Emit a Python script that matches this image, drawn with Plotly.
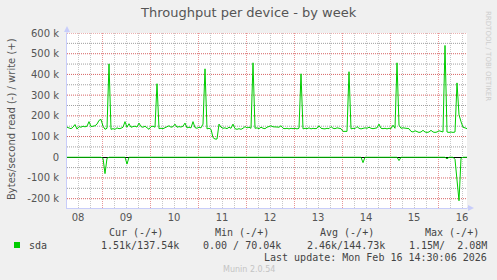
import plotly.graph_objects as go
import pandas as pd

# ---- data (hourly samples, values in kB/s) ----
start_time = "2026-02-08 06:30"
n_points = 201
write_k = [
    145, 140, 138, 145, 158, 136, 148, 145, 150, 147,
    150, 172, 148, 150, 152, 160, 178, 183, 150, 135,
    140, 451, 135, 138, 135, 142, 138, 140, 145, 172,
    145, 162, 145, 148, 150, 146, 165, 148, 145, 150,
    140, 135, 148, 150, 145, 355, 138, 140, 138, 142,
    145, 152, 145, 148, 160, 145, 148, 146, 150, 165,
    142, 145, 142, 172, 143, 140, 145, 142, 160, 427,
    137, 140, 135, 95, 88, 88, 160, 145, 140, 142,
    138, 145, 140, 160, 138, 135, 138, 135, 140, 148,
    142, 145, 140, 456, 140, 142, 138, 145, 140, 138,
    145, 148, 152, 147, 148, 146, 145, 152, 140, 138,
    140, 137, 140, 138, 140, 137, 140, 403, 137, 140,
    138, 142, 137, 140, 138, 140, 152, 140, 138, 137,
    140, 138, 148, 140, 138, 142, 140, 138, 125, 124,
    125, 413, 137, 140, 138, 148, 140, 137, 140, 142,
    140, 145, 140, 138, 140, 142, 160, 140, 138, 140,
    137, 140, 138, 155, 140, 456, 155, 140, 142, 140,
    140, 138, 125, 122, 128, 122, 120, 122, 130, 122,
    120, 122, 130, 122, 120, 122, 128, 125, 122, 540,
    122, 120, 122, 120, 122, 359, 205, 172, 145, 142,
    138,
]
read_k = [0] * 201
read_dips = {18: 5, 19: 79, 20: 5, 30: 33, 62: 3, 72: 2, 82: 2, 100: 2,
             135: 3, 144: 2, 148: 26, 166: 16, 182: 2, 190: 8, 194: 10,
             195: 131, 196: 210, 197: 5}
for k, v in read_dips.items():
    read_k[k] = v

y_tick_vals = [-200, -100, 0, 100, 200, 300, 400, 500, 600]
y_tick_text = ["-200 k", "-100 k", "0", "100 k", "200 k", "300 k", "400 k", "500 k", "600 k"]
y_minor_vals = [-150, -50, 50, 150, 250, 350, 450, 550]

legend_name = "sda"
col_headers = ["Cur (-/+)", "Min (-/+)", "Avg (-/+)", "Max (-/+)"]
col_values = ["1.51k/137.54k", "0.00 / 70.04k", "2.46k/144.73k", "1.15M/\u00a0\u00a02.08M"]
last_update = "Last update: Mon Feb 16 14:30:06 2026"

times = pd.date_range(start_time, periods=n_points, freq="h")

# ---- layout geometry (pixels) ----
W, H = 497, 280
L, R, T, B = 67, 467, 33, 208
pw, ph = R - L, B - T


def px(x):
    return (x - L) / pw


def py(y):
    return (B - y) / ph


GREEN = "#00CC00"
AXIS = "rgb(200,205,250)"
TXT = "#555555"
MAJ_V = "rgb(232,150,150)"
MIN_V = "rgb(200,200,200)"
MAJ_H = "rgb(215,100,100)"
MIN_H = "rgb(160,160,160)"

fig = go.Figure()
fig.add_trace(go.Scatter(x=times, y=write_k, mode="lines",
                         line=dict(color=GREEN, width=1), hoverinfo="skip"))
fig.add_trace(go.Scatter(x=times, y=[-v for v in read_k], mode="lines",
                         line=dict(color=GREEN, width=1), hoverinfo="skip"))

fig.update_layout(
    width=W, height=H,
    margin=dict(l=L, r=W - R, t=T, b=H - B, pad=0),
    paper_bgcolor="#F0F0F0", plot_bgcolor="#FFFFFF",
    showlegend=False,
    font=dict(family="DejaVu Sans", size=10, color=TXT),
)

fig.update_xaxes(
    type="date",
    range=[times[0], times[-1]],
    tick0="2026-02-08", dtick=86400000,
    tickformat="%d", ticklabelmode="period",
    ticks="", showgrid=True, gridcolor=MAJ_V, griddash="1px,1px", gridwidth=1,
    minor=dict(dtick=6 * 3600000, tick0="2026-02-08", showgrid=True,
               gridcolor=MIN_V, griddash="1px,1px", gridwidth=1),
    showline=True, linecolor=AXIS, linewidth=1,
    tickfont=dict(size=10, color=TXT),
    zeroline=False, fixedrange=True,
)
fig.update_yaxes(
    range=[-245, 600],
    tickvals=y_tick_vals, ticktext=y_tick_text,
    ticks="", ticklabelstandoff=5,
    showgrid=False,
    showline=True, linecolor=AXIS, linewidth=1,
    zeroline=True, zerolinecolor="#000000", zerolinewidth=1,
    tickfont=dict(size=10, color=TXT),
    fixedrange=True,
)

shapes = []
# horizontal grid (drawn from the tick value lists)
for v in y_minor_vals:
    shapes.append(dict(type="line", xref="paper", yref="y", x0=0, x1=1, y0=v, y1=v,
                       layer="below", line=dict(color=MIN_H, width=1, dash="1px,1px")))
for v in y_tick_vals:
    if v != 0:
        shapes.append(dict(type="line", xref="paper", yref="y", x0=0, x1=1, y0=v, y1=v,
                           layer="below", line=dict(color=MAJ_H, width=1, dash="1px,1px")))
# axis arrows
shapes.append(dict(type="line", xref="paper", yref="paper", x0=0, x1=0, y0=1, y1=py(31),
                   line=dict(color=AXIS, width=1)))
shapes.append(dict(type="path", xref="paper", yref="paper",
                   path=f"M {px(L-3)},{py(32)} L {px(L+3)},{py(32)} L 0,{py(26)} Z",
                   fillcolor=AXIS, line=dict(color=AXIS, width=0)))
shapes.append(dict(type="line", xref="paper", yref="paper", x0=1, x1=px(469), y0=0, y1=0,
                   line=dict(color=AXIS, width=1)))
shapes.append(dict(type="path", xref="paper", yref="paper",
                   path=f"M {px(468)},{py(B-3)} L {px(468)},{py(B+3)} L {px(474)},0 Z",
                   fillcolor=AXIS, line=dict(color=AXIS, width=0)))
# legend swatch
shapes.append(dict(type="rect", xref="paper", yref="paper",
                   x0=px(14), x1=px(20), y0=py(248), y1=py(242),
                   fillcolor=GREEN, line=dict(width=0)))
fig.update_layout(shapes=shapes)

ann = []
ann.append(dict(text="Throughput per device - by week", xref="paper", yref="paper",
                x=px(248), y=py(13), showarrow=False, xanchor="center", yanchor="middle",
                font=dict(family="DejaVu Sans", size=13, color=TXT)))
ann.append(dict(text="Bytes/second read (-) / write (+)", xref="paper", yref="paper",
                x=px(11), y=py(119), showarrow=False, textangle=-90,
                xanchor="center", yanchor="middle",
                font=dict(family="DejaVu Sans", size=10, color=TXT)))
ann.append(dict(text="RRDTOOL / TOBI OETIKER", xref="paper", yref="paper",
                x=px(488), y=py(56), showarrow=False, textangle=90,
                xanchor="center", yanchor="middle",
                font=dict(family="DejaVu Sans", size=7, color="#CDCDCD")))

MONO = "DejaVu Sans Mono"


def mono(text, x_left, y_mid, color="#444444", size=10, family=MONO):
    return dict(text=text, xref="paper", yref="paper", x=px(x_left), y=py(y_mid),
                showarrow=False, xanchor="left", yanchor="middle",
                font=dict(family=family, size=size, color=color))


ann.append(mono(legend_name, 27, 245))
header_x = [107, 213, 318, 423]
value_x = [99, 201, 305, 407]
for h, xh in zip(col_headers, header_x):
    ann.append(mono(h, xh, 232))
for v, xv in zip(col_values, value_x):
    ann.append(mono(v, xv, 245))
ann.append(mono(last_update, 262, 257))
ann.append(dict(text="Munin 2.0.54", xref="paper", yref="paper", x=px(249), y=py(269),
                showarrow=False, xanchor="center", yanchor="middle",
                font=dict(family="DejaVu Sans", size=8, color="#C4C4C4")))
fig.update_layout(annotations=ann)

fig.write_html("out.html")
